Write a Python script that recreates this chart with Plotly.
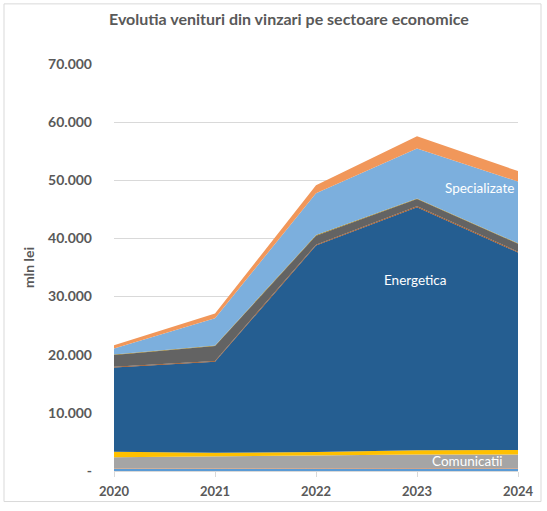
import plotly.graph_objects as go

years = [2020, 2021, 2022, 2023, 2024]

# stacked series, bottom to top (mln lei)
s_blue_small = [350, 400, 400, 450, 400]
s_orange_small = [80, 80, 80, 80, 80]
comunicatii = [1950, 2050, 2250, 2300, 2350]
s_gold = [950, 600, 550, 750, 800]
energetica = [14450, 15650, 35500, 41800, 33950]
s_dark_orange = [150, 150, 150, 150, 150]
s_dark_gray = [2020, 2550, 1550, 1250, 1350]
s_dark_gold = [100, 100, 100, 100, 100]
specializate = [1020, 4700, 7200, 8600, 10600]
s_light_orange = [570, 800, 1350, 2100, 1800]

series = [
    ("S1", s_blue_small, "#5B9BD5"),
    ("S2", s_orange_small, "#ED7D31"),
    ("Comunicatii", comunicatii, "#A5A5A5"),
    ("S4", s_gold, "#FFC000"),
    ("Energetica", energetica, "#255E91"),
    ("S8", s_dark_orange, "#9E480E"),
    ("S9", s_dark_gray, "#636363"),
    ("S10", s_dark_gold, "#997300"),
    ("Specializate", specializate, "#7CAFDD"),
    ("S14", s_light_orange, "#F1975A"),
]

y_ticks = [0, 10000, 20000, 30000, 40000, 50000, 60000, 70000]
y_tick_text = ["-", "10.000", "20.000", "30.000", "40.000", "50.000", "60.000", "70.000"]

fig = go.Figure()
for name, vals, col in series:
    fig.add_trace(go.Scatter(
        x=years, y=vals, name=name, mode="lines",
        stackgroup="one", line=dict(width=0, color=col),
        fillcolor=col, hoverinfo="x+y+name",
    ))

font_fam = "Lato, 'Open Sans', sans-serif"
txt = "#595959"

fig.update_layout(
    width=547, height=511,
    margin=dict(l=114, r=29, t=64, b=34),
    paper_bgcolor="white", plot_bgcolor="white",
    showlegend=False,
    font=dict(family=font_fam, color=txt),
    xaxis=dict(
        range=[2020, 2024], tickvals=years, ticktext=[str(y) for y in years],
        showgrid=False, zeroline=False,
        showline=True, linecolor="#D9D9D9", linewidth=1,
        ticks="outside", ticklen=5, tickcolor="#D9D9D9",
        ticklabelstandoff=3,
        tickfont=dict(size=13, color=txt, family=font_fam, weight="bold"),
    ),
    yaxis=dict(
        range=[0, 70000], tickvals=y_ticks, ticktext=y_tick_text,
        showgrid=True, gridcolor="#D9D9D9", gridwidth=1,
        zeroline=False, showline=False, ticks="",
        tickfont=dict(size=14, color=txt, family=font_fam, weight="bold"),
        ticklabelstandoff=21,
        title=dict(text="mln lei", font=dict(size=14, color=txt, family=font_fam, weight="bold"), standoff=10),
    ),
    annotations=[
        dict(text="Evolutia venituri din vinzari pe sectoare economice",
             xref="paper", yref="paper", x=(289 - 114) / 404, y=(477 - 18) / 413,
             xanchor="center", yanchor="middle", showarrow=False,
             font=dict(size=16, color=txt, family=font_fam, weight="bold")),
        dict(text="Specializate", x=2023.62, y=48600, showarrow=False,
             font=dict(size=13.5, color="white", family=font_fam)),
        dict(text="Energetica", x=2022.99, y=32900, showarrow=False,
             font=dict(size=13.5, color="white", family=font_fam)),
        dict(text="Comunicatii", x=2023.5, y=1700, showarrow=False,
             font=dict(size=13.5, color="white", family=font_fam)),
    ],
    shapes=[
        dict(type="rect", xref="paper", yref="paper",
             x0=(4 - 114) / 404, x1=(541 - 114) / 404,
             y0=(477 - 508) / 413, y1=(477 - 3) / 413,
             line=dict(color="#D9D9D9", width=1), fillcolor="rgba(0,0,0,0)", layer="below"),
    ],
)

fig.write_html(
    "out.html",
    config={"displayModeBar": False},
    post_script="document.body.style.margin='0px';document.body.style.overflow='hidden';document.documentElement.style.overflow='hidden';",
)
